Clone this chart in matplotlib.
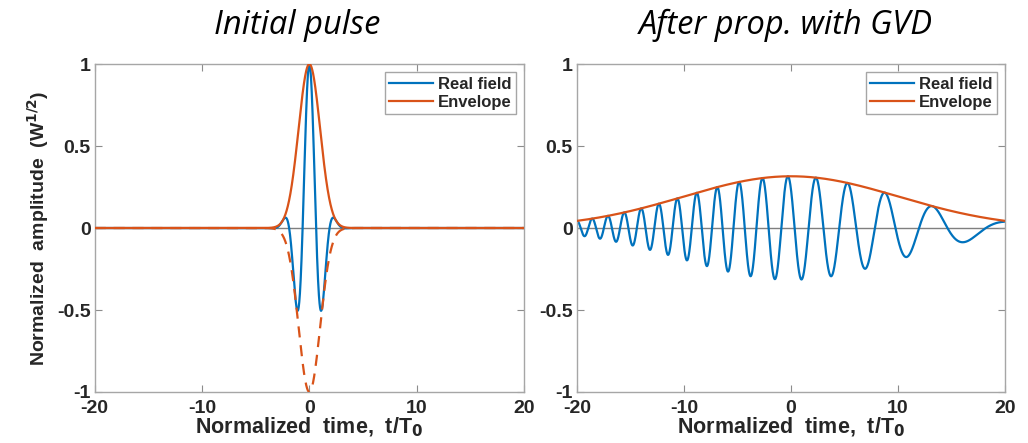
import numpy as np
import matplotlib
matplotlib.use("Agg")
import matplotlib.pyplot as plt
from matplotlib.ticker import FixedLocator, FixedFormatter

# ---- values ----
panel_titles = ["Initial pulse", "After prop. with GVD"]
series_labels = ["Real field", "Envelope"]
x_ticks = [-20, -10, 0, 10, 20]
x_tick_labels = ["-20", "-10", "0", "10", "20"]
y_ticks = [-1, -0.5, 0, 0.5, 1]
y_tick_labels = ["-1", "-0.5", "0", "0.5", "1"]
x_label = "Normalized  time,  t/T$_\\mathbf{0}$"
y_label = "Normalized  amplitude  (W$^\\mathbf{1/2}$)"

# pulse parameters estimated from the curves
peak_amplitude = 1.0        # initial peak (W^1/2)
carrier_freq = 2.5          # carrier angular frequency in units of 1/T0
propagation_distance = [0.0, 10.0]   # z / L_D for each panel
time_range = (-20, 20)

BLUE = "#0072BD"
ORANGE = "#D95319"

t = np.linspace(time_range[0], time_range[1], 4001)


def field(xi):
    q = 1 - 1j * xi
    u = peak_amplitude * q ** -0.5 * np.exp(-t ** 2 / (2 * q))
    return np.real(u * np.exp(1j * carrier_freq * t)), np.abs(u)


plt.rcParams["font.family"] = ["Liberation Sans", "DejaVu Sans"]
plt.rcParams["font.weight"] = "bold"
plt.rcParams["mathtext.default"] = "bf"

fig = plt.figure(figsize=(10.28, 4.43), dpi=100)
W, H = 1028, 443
boxes = [(94.7, 524.0), (577.0, 1005.0)]
top_px, bot_px = 64.0, 392.0
title_x = [297, 786]

for i, (xl, xr) in enumerate(boxes):
    ax = fig.add_axes([xl / W, 1 - bot_px / H, (xr - xl) / W, (bot_px - top_px) / H])
    real, env = field(propagation_distance[i])
    ax.axhline(0, color="#7f7f7f", lw=1.0, zorder=1)
    ax.plot(t, real, color=BLUE, lw=1.6, label=series_labels[0], zorder=2)
    if i == 0:
        ax.plot(t, -env, color=ORANGE, lw=1.6, ls=(0, (5, 3.5)), zorder=3)
    ax.plot(t, env, color=ORANGE, lw=1.6, label=series_labels[1], zorder=4)
    ax.set_xlim(*time_range)
    ax.set_ylim(-1, 1)
    ax.xaxis.set_major_locator(FixedLocator(x_ticks))
    ax.xaxis.set_major_formatter(FixedFormatter(x_tick_labels))
    ax.yaxis.set_major_locator(FixedLocator(y_ticks))
    ax.yaxis.set_major_formatter(FixedFormatter(y_tick_labels))
    ax.tick_params(direction="in", length=5, width=0.8, color="#8c8c8c",
                   top=True, right=True, labelsize=14, labelcolor="#262626")
    ax.tick_params(axis="x", pad=6)
    ax.tick_params(axis="y", pad=3)
    for lab in ax.get_xticklabels() + ax.get_yticklabels():
        lab.set_fontweight("bold")
    for sp in ax.spines.values():
        sp.set_color("#a6a6a6")
        sp.set_linewidth(1.0)
    ax.set_xlabel(x_label, fontsize=15.5, fontweight="bold", color="#262626", labelpad=-1)
    if i == 0:
        ax.set_ylabel(y_label, fontsize=14, fontweight="bold", color="#262626", labelpad=4)
    leg = ax.legend(loc="upper right", fontsize=12, handlelength=2.6, handletextpad=0.3,
                    borderpad=0.25, labelspacing=0.2, fancybox=False, framealpha=1,
                    borderaxespad=0.5)
    leg.get_frame().set_edgecolor("#a6a6a6")
    leg.get_frame().set_linewidth(1.0)
    for txt in leg.get_texts():
        txt.set_fontweight("bold")
        txt.set_color("#262626")
    fig.text(title_x[i] / W, 1 - 34 / H, panel_titles[i], ha="center", va="baseline",
             fontsize=23.5, style="italic", fontweight="normal", family=["Open Sans", "DejaVu Sans"])

fig.savefig("out.png", dpi=100)
